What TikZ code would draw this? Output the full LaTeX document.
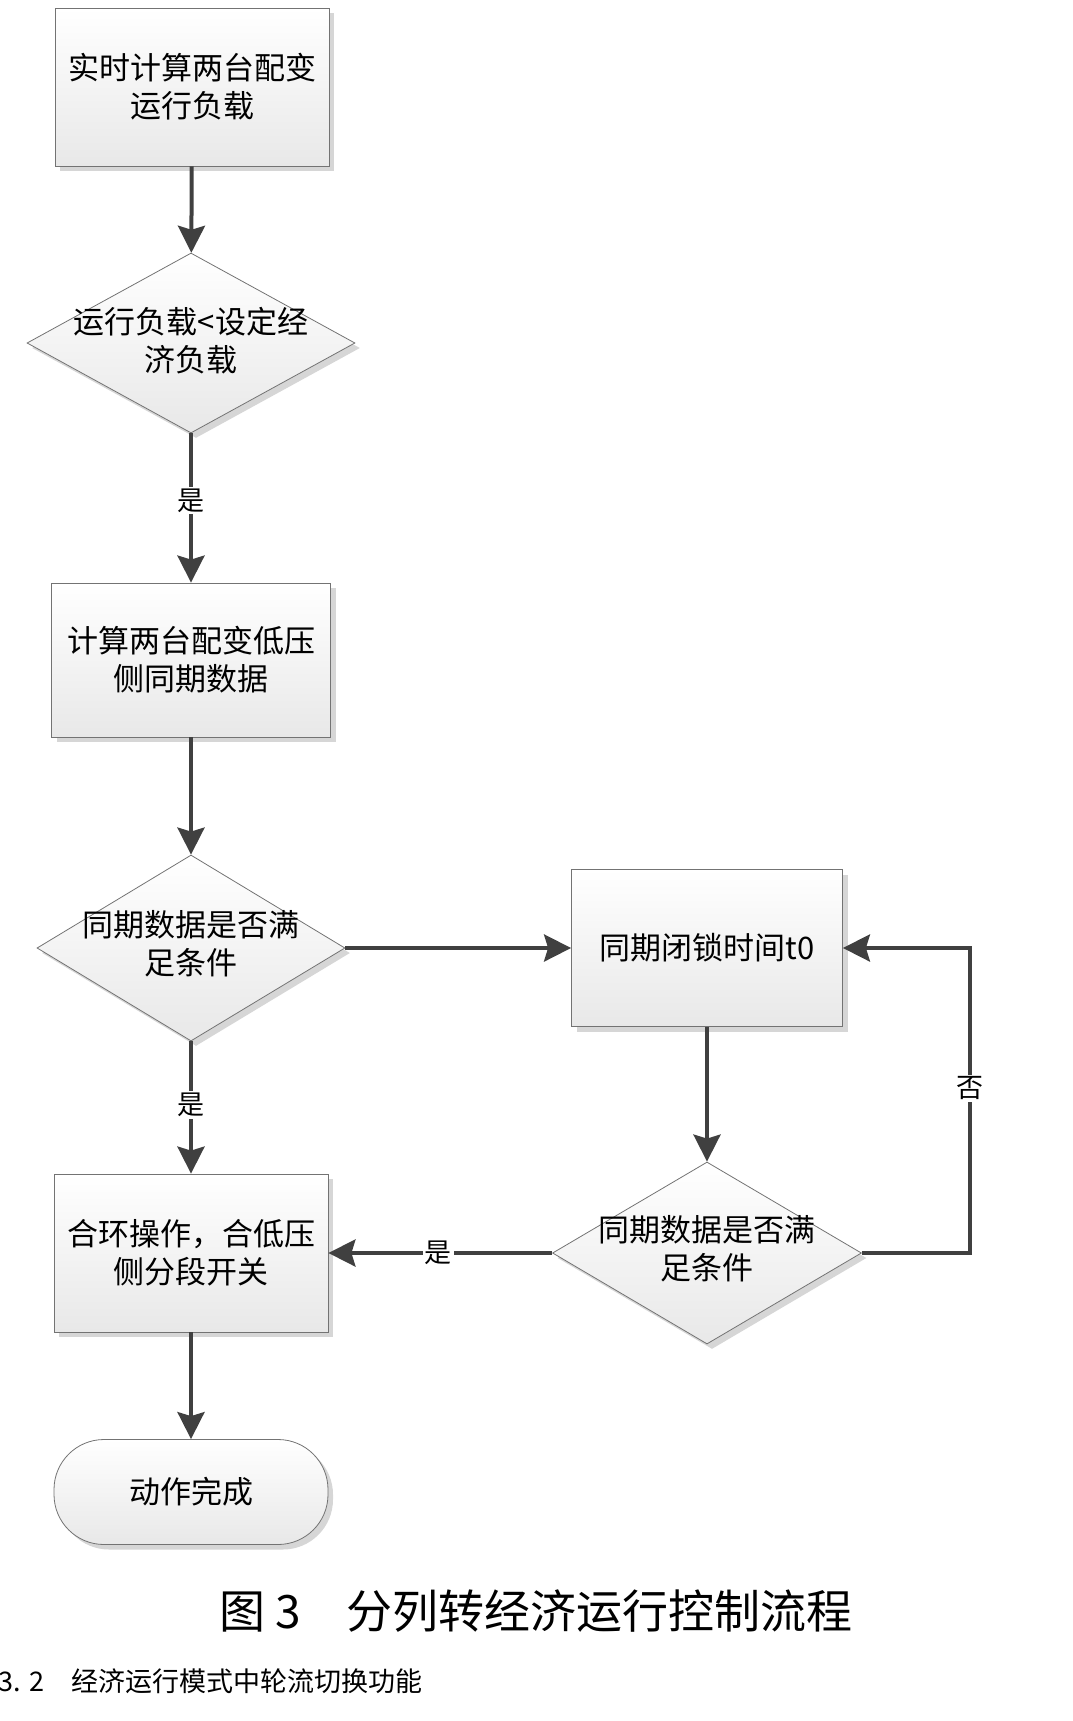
\documentclass[tikz,border=0pt]{standalone}
\usepackage{fontspec}
\setmainfont{Noto Sans CJK SC}
\usetikzlibrary{arrows.meta,shapes.geometric,shadows}

\begin{document}
\begin{tikzpicture}[x=1pt, y=-1pt, >={Stealth[length=27pt,width=27pt,inset=4pt]},
  proc/.style={rectangle, draw=black!55, line width=0.8pt, top color=white, bottom color=black!9,
    drop shadow={shadow xshift=5pt, shadow yshift=-5pt, fill=black!16, opacity=1},
    minimum width=274pt, minimum height=158pt, inner sep=0pt, align=center,
    font=\fontsize{31}{38}\selectfont},
  decision/.style={diamond, draw=black!55, line width=0.8pt, top color=white, bottom color=black!9,
    drop shadow={shadow xshift=5pt, shadow yshift=-5pt, fill=black!16, opacity=1},
    inner sep=0pt},
  dtext/.style={align=center, font=\fontsize{31}{38}\selectfont},
  arr/.style={->, line width=4pt, draw=black!75},
  lbl/.style={fill=white, inner sep=2pt, font=\fontsize{27}{30}\selectfont}]
\useasboundingbox (0,0) rectangle (1073,1721);

% boxes
\node[proc] (calc) at (192,87) {实时计算两台配变\\运行负载};
\node[decision, minimum width=328pt, minimum height=180pt] (chk) at (191,343) {};
\node[dtext] (chkt) at (191,341) {运行负载<设定经\\济负载};
\node[proc, minimum width=279pt, minimum height=154pt] (sync) at (191,660) {计算两台配变低压\\侧同期数据};
\node[decision, minimum width=308pt, minimum height=186pt] (sok) at (191,948) {};
\node[dtext] (sokt) at (191,944) {同期数据是否满\\足条件};
\node[proc, minimum width=271pt, minimum height=157pt] (lock) at (707,948) {同期闭锁时间t0};
\node[decision, minimum width=309pt, minimum height=182pt] (sok2) at (707,1253) {};
\node[dtext] (sok2t) at (707,1249) {同期数据是否满\\足条件};
\node[proc] (close) at (191,1253) {合环操作，合低压\\侧分段开关};
\node[proc, minimum height=105pt, rounded corners=50pt] (done) at (191,1492) {动作完成};
\coordinate (back) at (970,1253);

% arrows
\draw[arr] (calc) -- (chk);
\draw[arr] (chk) -- node[lbl, pos=0.45]{是} (sync);
\draw[arr] (sync) -- (sok);
\draw[arr] (sok) -- (lock);
\draw[arr] (sok) -- node[lbl, pos=0.48]{是} (close);
\draw[arr] (lock) -- (sok2);
\draw[arr] (sok2) -- node[lbl, pos=0.51]{是} (close);
\draw[arr] (sok2.east) -- (back) |- node[lbl, pos=0.27]{否} (lock.east);
\draw[arr] (close) -- (done);

% caption
\node[font=\fontsize{46}{50}\selectfont] (cap) at (536,1611) {图 3　分列转经济运行控制流程};
\node[anchor=west, font=\fontsize{27}{30}\selectfont] (sec) at (-5,1681) {3. 2　经济运行模式中轮流切换功能};
\end{tikzpicture}
\end{document}
